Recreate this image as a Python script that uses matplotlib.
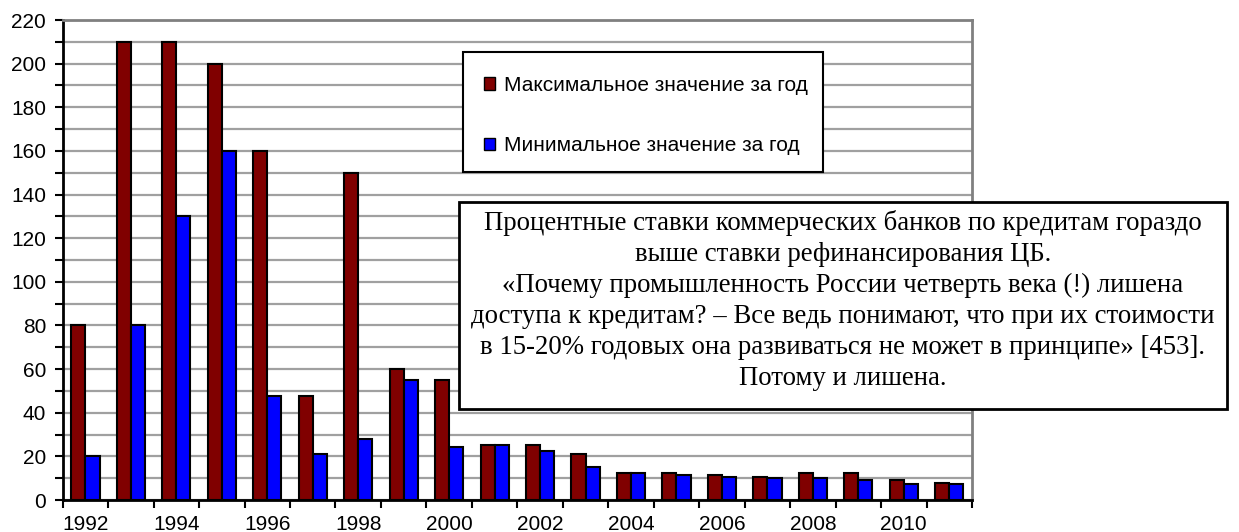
import matplotlib
matplotlib.use("Agg")
import matplotlib.pyplot as plt
import numpy as np
from matplotlib.patches import Rectangle, Patch

# Interest rates of commercial banks on loans, % per year
years = list(range(1992, 2012))
max_rate = [80, 210, 210, 200, 160, 47.5, 150, 60, 55, 25,
            25, 21, 12.5, 12.5, 11.5, 10.5, 12.5, 12.5, 9, 8]
min_rate = [20, 80, 130, 160, 47.5, 21, 28, 55, 24.5, 25,
            22.5, 15, 12.5, 11.5, 10.5, 10, 10, 9, 7.25, 7.25]
series_labels = ["Максимальное значение за год", "Минимальное значение за год"]
note_lines = [
    "Процентные ставки коммерческих банков по кредитам гораздо",
    "выше ставки рефинансирования ЦБ.",
    "«Почему промышленность России четверть века (!) лишена",
    "доступа к кредитам? – Все ведь понимают, что при их стоимости",
    "в 15-20% годовых она развиваться не может в принципе» [453].",
    "Потому и лишена.",
]

W, H = 1239, 532
fig = plt.figure(figsize=(W / 100, H / 100), dpi=100)
ax = fig.add_axes([62.7 / W, 1 - 500 / H, (972 - 62.7) / W, 480 / H])

sans = "Liberation Sans"
serif = "Liberation Serif"

x = np.arange(len(years))
bw = 0.31
ax.bar(x - bw / 2, max_rate, width=bw, color="#800000", edgecolor="black",
       linewidth=1.5, zorder=3)
ax.bar(x + bw / 2, min_rate, width=bw, color="#0000FF", edgecolor="black",
       linewidth=1.5, zorder=3)

ax.set_xlim(-0.5, len(years) - 0.5)
ax.set_ylim(0, 220)

# y axis: labels every 20, grid and ticks every 10
ax.set_yticks(np.arange(0, 221, 20))
ax.set_yticks(np.arange(10, 220, 20), minor=True)
ax.yaxis.grid(True, which="both", color="#a0a0a0", linewidth=1.6, zorder=0)
ax.tick_params(axis="y", which="both", direction="out", length=6, width=1.5,
               labelsize=15, pad=6)

# x axis: ticks at category boundaries, labels every other year
ax.set_xticks(x[::2])
ax.set_xticklabels([str(y) for y in years[::2]], fontfamily=sans)
ax.set_xticks(np.arange(-0.5, len(years), 1), minor=True)
ax.tick_params(axis="x", which="major", length=0, labelsize=15, pad=10.5)
ax.tick_params(axis="x", which="minor", direction="out", length=6, width=1.5)
for lab in ax.get_yticklabels():
    lab.set_fontfamily(sans)

for side in ("left", "bottom"):
    ax.spines[side].set_color("black")
    ax.spines[side].set_linewidth(2)
for side in ("top", "right"):
    ax.spines[side].set_color("#808080")
    ax.spines[side].set_linewidth(2)
ax.set_axisbelow(True)

# legend with a fixed frame
fig.patches.append(Rectangle((463 / W, 1 - 172 / H), (823 - 463) / W, 120 / H,
                             transform=fig.transFigure, facecolor="white",
                             edgecolor="black", linewidth=1.5, zorder=5))
handles = [Patch(facecolor="#800000", edgecolor="black", linewidth=1),
           Patch(facecolor="#0000FF", edgecolor="black", linewidth=1)]
leg = fig.legend(handles, series_labels, loc="upper left",
                 bbox_to_anchor=(484 / W, 1 - 76 / H), frameon=False,
                 prop={"family": sans, "size": 15}, handlelength=0.55,
                 handleheight=0.55, handletextpad=0.43, labelspacing=1.98,
                 borderpad=0, borderaxespad=0)
leg.set_zorder(6)

# note box
fig.patches.append(Rectangle((459 / W, 1 - 409 / H), (1227 - 459) / W, (409 - 202) / H,
                             transform=fig.transFigure, facecolor="white",
                             edgecolor="black", linewidth=2, zorder=5))
cx = 843
for i, line in enumerate(note_lines):
    yb = 230 + i * 31
    fig.text(cx / W, 1 - yb / H, line, ha="center", va="baseline",
             family=serif, fontsize=19.3, zorder=6)

fig.savefig("out.png", dpi=100)
